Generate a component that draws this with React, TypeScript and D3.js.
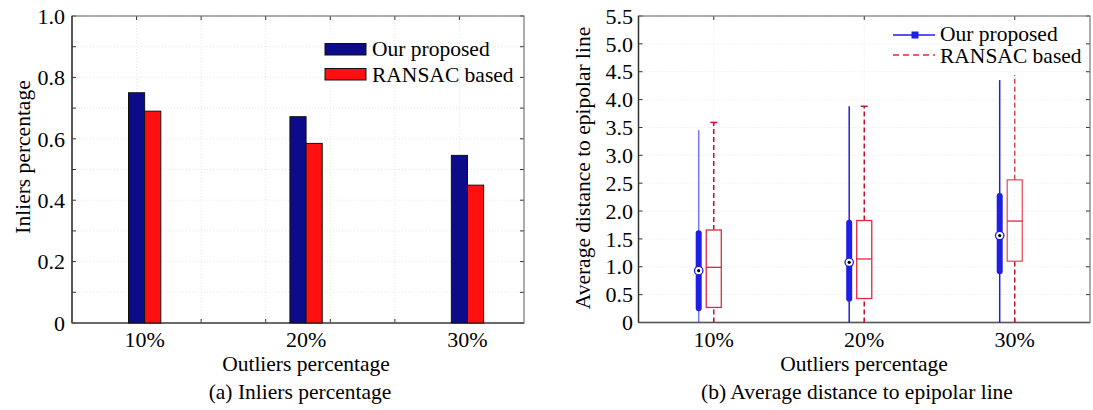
import React from "react";
import * as d3 from "d3";

const categories = ["10%", "20%", "30%"];

// (a) inliers percentage
const inliersOurs = [0.75, 0.672, 0.546];
const inliersRansac = [0.69, 0.585, 0.449];

// (b) box stats per category: [whisker low, q1, median, q3, whisker high]
const distOurs = [
  [0, 0.24, 0.93, 1.62, 3.45],
  [0, 0.41, 1.08, 1.81, 3.88],
  [0, 0.9, 1.56, 2.29, 4.35],
];
const distRansac = [
  [0, 0.27, 0.99, 1.66, 3.59],
  [0, 0.43, 1.14, 1.83, 3.88],
  [0, 1.1, 1.82, 2.56, 4.44],
];

const seriesNames = ["Our proposed", "RANSAC based"];

const FONT = "'Liberation Serif', 'Times New Roman', serif";
const BLUE_BAR = "#0c0c8a";
const RED_BAR = "#ff1010";
const BLUE = "#1e1ee6";
const RED = "#e4283c";
const RED_DARK = "#c8102e";

function Frame({ x, y, xTicks, yTicks }: any) {
  const [x0, x1] = x.range();
  const [y0, y1] = y.range();
  return (
    <g>
      {yTicks.map((t: number, i: number) => (
        <line key={"gy" + i} x1={x0} x2={x1} y1={y(t)} y2={y(t)} stroke="#e6e6e6" strokeDasharray="1,2" />
      ))}
      {xTicks.map((t: number, i: number) => (
        <line key={"gx" + i} x1={x(t)} x2={x(t)} y1={y0} y2={y1} stroke="#e6e6e6" strokeDasharray="1,2" />
      ))}
      {yTicks.map((t: number, i: number) => (
        <g key={"ty" + i}>
          <line x1={x0} x2={x0 + 4} y1={y(t)} y2={y(t)} stroke="#333" />
          <line x1={x1} x2={x1 - 4} y1={y(t)} y2={y(t)} stroke="#333" />
        </g>
      ))}
      {xTicks.map((t: number, i: number) => (
        <g key={"tx" + i}>
          <line x1={x(t)} x2={x(t)} y1={y0} y2={y0 - 4} stroke="#333" />
          <line x1={x(t)} x2={x(t)} y1={y1} y2={y1 + 4} stroke="#333" />
        </g>
      ))}
      <rect x={x0} y={y1} width={x1 - x0} height={y0 - y1} fill="none" stroke="#777" strokeWidth={1.2} />
      <line x1={x0} x2={x0} y1={y0} y2={y1} stroke="#333" strokeWidth={1.4} />
      <line x1={x0} x2={x1} y1={y0} y2={y0} stroke="#555" strokeWidth={1.4} />
    </g>
  );
}

function BarChart() {
  const x = d3.scaleLinear().domain([0.55, 3.35]).range([72, 524]);
  const y = d3.scaleLinear().domain([0, 1]).range([323, 16]);
  const xTicks = d3.range(0.95, 3.3, 0.4);
  const yMinor = d3.range(0, 1.001, 0.1);
  const yLabels = d3.range(0, 1.001, 0.2);
  const barW = 0.1;
  return (
    <g fontFamily={FONT}>
      <Frame x={x} y={y} xTicks={xTicks} yTicks={yMinor} />
      {categories.map((c, i) => (
        <g key={c}>
          <rect x={x(i + 1 - barW)} y={y(inliersOurs[i])} width={x(i + 1) - x(i + 1 - barW)}
            height={y(0) - y(inliersOurs[i])} fill={BLUE_BAR} stroke="#111" />
          <rect x={x(i + 1)} y={y(inliersRansac[i])} width={x(i + 1 + barW) - x(i + 1)}
            height={y(0) - y(inliersRansac[i])} fill={RED_BAR} stroke="#111" />
          <text x={x(i + 1)} y={347} textAnchor="middle" fontSize={22}>{c}</text>
        </g>
      ))}
      {yLabels.map((t) => (
        <text key={t} x={65} y={y(t)} dy="0.35em" textAnchor="end" fontSize={22}>
          {t === 0 ? "0" : d3.format(".1f")(t)}
        </text>
      ))}
      <text transform="translate(30,157) rotate(-90)" textAnchor="middle" fontSize={21.5}>Inliers percentage</text>
      <text x={306} y={371} textAnchor="middle" fontSize={21.5}>Outliers percentage</text>
      <text x={300} y={399} textAnchor="middle" fontSize={21.5}>(a) Inliers percentage</text>
      {seriesNames.map((s, i) => (
        <g key={s}>
          <rect x={325} y={43.5 + i * 25} width={41} height={11.5} fill={i === 0 ? BLUE_BAR : RED_BAR} stroke="#111" />
          <text x={372} y={56 + i * 26} fontSize={21.5}>{s}</text>
        </g>
      ))}
    </g>
  );
}

function BoxChart() {
  const x = d3.scaleLinear().domain([0.5, 3.5]).range([638.5, 1090]);
  const y = d3.scaleLinear().domain([0, 5.5]).range([322.5, 16]);
  const xTicks = [1, 2, 3];
  const yTicks = d3.range(0, 5.501, 0.5);
  const off = 0.1;
  const half = 0.05;
  return (
    <g fontFamily={FONT}>
      <Frame x={x} y={y} xTicks={xTicks} yTicks={yTicks} />
      {categories.map((c, i) => {
        const [bl, bq1, bm, bq3, bh] = distOurs[i];
        const [rl, rq1, rm, rq3, rh] = distRansac[i];
        const bx = x(i + 1 - off);
        const rx = x(i + 1);
        const rw = x(i + 1 + half) - x(i + 1 - half);
        return (
          <g key={c}>
            <line x1={bx} x2={bx} y1={y(bl)} y2={y(bh)} stroke={BLUE} strokeWidth={1.5} opacity={i === 0 ? 0.6 : 1} />
            <line x1={bx} x2={bx} y1={y(bq1) - 1} y2={y(bq3) + 1} stroke={BLUE} strokeWidth={6} strokeLinecap="round" />
            <circle cx={bx} cy={y(bm)} r={4.2} fill="#fff" stroke={BLUE} strokeWidth={1.3} />
            <circle cx={bx} cy={y(bm)} r={1.6} fill="#000" />
            <line x1={rx} x2={rx} y1={y(rl)} y2={y(rq1)} stroke={RED_DARK} strokeWidth={1.5} strokeDasharray="5,3" />
            <line x1={rx} x2={rx} y1={y(rq3)} y2={y(rh)} stroke={RED_DARK} strokeWidth={1.5} strokeDasharray="5,3"
              opacity={i === 2 ? 0.75 : 1} />
            {i < 2 && <line x1={rx - 3.5} x2={rx + 3.5} y1={y(rh)} y2={y(rh)} stroke={RED_DARK} strokeWidth={1.5} />}
            <rect x={rx - rw / 2} y={y(rq3)} width={rw} height={y(rq1) - y(rq3)} fill="none" stroke={RED}
              strokeWidth={1.3} opacity={i === 2 ? 0.8 : 1} />
            <line x1={rx - rw / 2} x2={rx + rw / 2} y1={y(rm)} y2={y(rm)} stroke={RED} strokeWidth={1.3} />
            <text x={x(i + 1)} y={347} textAnchor="middle" fontSize={22}>{c}</text>
          </g>
        );
      })}
      {yTicks.map((t) => (
        <text key={t} x={633} y={y(t)} dy="0.35em" textAnchor="end" fontSize={22}>
          {t === 0 ? "0" : d3.format(".1f")(t)}
        </text>
      ))}
      <text transform="translate(590,168) rotate(-90)" textAnchor="middle" fontSize={21.5}>
        Average distance to epipolar line
      </text>
      <text x={864} y={371} textAnchor="middle" fontSize={21.5}>Outliers percentage</text>
      <text x={857} y={399} textAnchor="middle" fontSize={21.5}>(b) Average distance to epipolar line</text>
      <g>
        <line x1={893} x2={935} y1={35} y2={35} stroke={BLUE} strokeWidth={1.5} />
        <rect x={911.5} y={31.5} width={7} height={7} fill={BLUE} />
        <text x={940} y={41} fontSize={21.5}>{seriesNames[0]}</text>
        <line x1={893} x2={935} y1={55} y2={55} stroke={RED} strokeWidth={1.5} strokeDasharray="6,4" />
        <text x={940} y={63} fontSize={21.5}>{seriesNames[1]}</text>
      </g>
    </g>
  );
}

export default function App() {
  return (
    <svg width={1093} height={410} style={{ position: "absolute", left: 0, top: 0, background: "#fff" }}>
      <rect width={1093} height={410} fill="#fff" />
      <BarChart />
      <BoxChart />
    </svg>
  );
}
